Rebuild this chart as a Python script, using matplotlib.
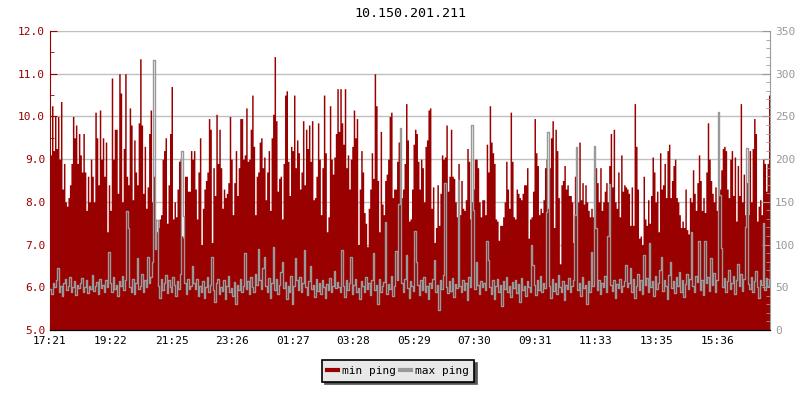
import numpy as np
import matplotlib
matplotlib.use('Agg')
import matplotlib.pyplot as plt
from matplotlib.lines import Line2D
from matplotlib.ticker import MultipleLocator, FormatStrFormatter

plt.rcParams['font.family'] = 'DejaVu Sans Mono'
plt.rcParams['font.size'] = 8

# '#' chart data (24 h window)
title = '10.150.201.211'
span_minutes = 1440
tick_minutes = [0, 121, 244, 365, 486, 607, 728, 849, 970, 1092, 1214, 1335]
tick_labels = ['17:21', '19:22', '21:25', '23:26', '01:27', '03:28',
               '05:29', '07:30', '09:31', '11:33', '13:35', '15:36']

# '#' min ping, left axis
min_ping = [
    9.1, 10.25, 9.2, 10.0, 9.25, 10.0, 9.0, 10.35, 8.3, 8.9,
    8.0, 7.9, 8.1, 8.4, 8.9, 10.0, 9.5, 9.8, 8.9, 9.6,
    9.1, 8.7, 9.6, 8.7, 7.8, 8.6, 8.0, 9.0, 8.6, 8.0,
    10.1, 9.5, 8.4, 10.15, 9.0, 9.5, 8.6, 9.4, 7.3, 8.4,
    7.8, 10.9, 9.0, 9.7, 9.7, 8.2, 11.0, 10.55, 8.0, 9.25,
    11.0, 8.6, 8.4, 10.2, 9.8, 8.05, 9.45, 8.7, 8.4, 9.85,
    11.35, 9.8, 8.2, 9.3, 7.85, 8.35, 9.6, 10.15, 8.0, 8.6,
    7.6, 7.3, 7.4, 7.6, 7.7, 9.0, 9.2, 9.5, 7.5, 8.4,
    9.6, 10.7, 7.6, 8.0, 7.65, 8.3, 8.95, 9.0, 7.2, 7.15,
    8.6, 8.6, 8.25, 8.25, 9.2, 9.0,
    9.2, 8.3, 7.6, 8.7, 9.5, 7.0, 7.85, 8.3, 8.5, 8.7,
    9.95, 9.7, 7.05, 8.8, 8.15, 10.05, 8.9, 9.7, 8.8, 7.85,
    8.3, 8.1, 8.2, 8.45, 10.0, 9.0, 7.7, 8.45, 9.2, 8.15,
    8.8, 9.95, 9.95, 9.0, 9.1, 10.2, 8.95, 9.0, 9.7, 10.5,
    9.3, 7.7, 8.6, 8.7, 9.4, 9.5, 8.8, 9.05, 8.05, 8.7,
    9.2, 7.8, 9.5, 10.05, 11.4, 9.9, 8.25, 8.55, 8.6, 7.6,
    8.9, 10.5, 10.6, 8.95, 8.15, 9.3, 9.2, 10.5, 8.8, 9.45,
    9.15, 8.3, 8.7, 9.9, 8.4, 9.7, 9.25, 9.8, 8.95, 9.9,
    8.05, 8.1, 8.6, 9.85, 9.0, 7.7, 8.8, 10.5, 9.15, 7.3,
    7.65, 10.25, 9.0, 8.65, 9.05, 9.6, 10.65,
    9.65, 10.65, 9.85, 9.35, 10.65, 8.8, 9.1, 8.3, 9.0, 9.3,
    10.15, 9.5, 9.95, 7.0, 8.3, 9.2, 8.7, 7.75, 7.5, 6.95,
    7.85, 8.3, 9.15, 8.55, 11.0, 10.25, 8.5, 7.3, 9.65, 7.95,
    7.7, 8.5, 8.65, 9.0, 10.0, 10.1, 8.1, 8.3, 8.3, 8.95,
    9.4, 8.7, 8.1, 8.3, 8.9, 10.3, 9.45, 7.55, 7.6, 8.3,
    9.35, 9.7, 9.6, 8.95, 8.3, 9.0, 8.8, 8.0, 9.3, 9.45,
    10.15, 10.2, 7.85, 8.35, 7.05, 7.4, 8.4, 7.45, 8.2, 9.1,
    9.0, 9.05, 9.8, 8.25, 8.6, 9.7, 8.6, 8.55, 8.0, 7.65,
    8.9, 7.7, 8.5, 7.85, 7.8, 8.05, 9.25, 8.95, 7.6, 8.0,
    8.3, 9.0, 9.0, 8.8, 8.0, 7.65, 8.05,
    8.05, 7.7, 9.35, 8.7, 10.25, 9.4, 9.15, 8.9, 7.6, 7.55,
    7.1, 7.45, 7.45, 7.65, 8.0, 8.95, 8.3, 7.85, 10.1, 8.95,
    7.65, 7.6, 8.3, 8.2, 8.1, 8.05, 8.2, 8.4, 8.4, 8.8,
    7.15, 7.6, 7.65, 8.25, 9.95, 9.15, 8.85, 7.7, 7.85, 7.75,
    8.05, 8.8, 9.0, 7.85, 8.8, 9.5, 9.9, 7.4, 9.7, 9.2,
    8.1, 6.55, 8.4, 8.5, 8.85, 8.3, 8.4, 8.15, 8.15, 8.0,
    7.05, 8.6, 8.95, 8.0, 9.4, 8.05, 8.45, 7.95, 8.4, 8.0,
    7.8, 7.65, 7.85, 7.65, 8.9, 8.8, 8.45, 8.0, 8.8, 7.8,
    8.0, 8.25, 8.45, 8.0, 8.85, 9.6, 8.35, 9.7, 8.0, 7.85,
    8.7, 7.65, 9.1, 8.25, 8.4, 8.35, 8.3,
    8.2, 7.45, 8.35, 7.45, 10.3, 9.3, 8.3, 7.15, 7.2, 7.0,
    8.6, 7.6, 7.45, 8.05, 7.5, 8.15, 9.05, 8.7, 8.0, 8.25,
    7.3, 9.15, 8.3, 8.4, 8.9, 8.1, 9.2, 9.35, 8.1, 8.5,
    8.85, 9.0, 8.1, 8.0, 7.7, 7.4, 7.55, 7.4, 8.3, 7.35,
    7.25, 8.1, 8.0, 8.75, 8.2, 7.8, 8.45, 9.1, 8.5, 7.8,
    8.1, 7.75, 8.7, 9.85, 9.0, 8.5, 8.2, 8.0, 8.35, 7.8,
    8.3, 8.3, 8.75, 9.25, 9.3, 9.2, 8.3, 8.1, 9.0, 9.2,
    8.15, 9.05, 7.55, 8.85, 8.15, 10.3, 8.0, 8.65, 7.7, 8.45,
    7.7, 9.2, 8.0, 9.25, 9.95, 9.6, 7.55, 7.9, 8.05, 7.7,
    9.0, 8.9, 8.25, 8.9, 10.5, 8.0,
]

# '#' max ping, right axis
max_ping = [
    48, 42, 55, 50, 58, 73, 45, 52, 40, 55,
    60, 47, 52, 62, 44, 50, 57, 41, 53, 49,
    55, 61, 45, 50, 58, 43, 52, 48, 64, 46,
    51, 56, 42, 60, 49, 53, 45, 58, 50, 91,
    55, 44, 62, 48, 53, 40, 57, 51, 63, 47,
    58, 139, 119, 50, 45, 60, 42, 55, 84, 48,
    52, 66, 44, 58, 50, 86, 55, 62, 80, 316,
    95, 129, 52, 38, 60, 47, 55, 64, 43, 58,
    50, 45, 62, 53, 40, 57, 48, 66, 209, 133,
    55, 42, 60, 48, 52, 75,
    55, 48, 60, 40, 52, 45, 57, 38, 50, 62,
    44, 53, 86, 47, 33, 55, 60, 42, 50, 46,
    58, 36, 52, 63, 45, 49, 40, 56, 31, 53,
    47, 60, 44, 51, 90, 48, 57, 42, 62, 50,
    45, 66, 53, 95, 58, 48, 72, 86, 52, 44,
    61, 38, 55, 97, 47, 60, 42, 53, 68, 80,
    49, 56, 36, 52, 45, 63, 30, 51, 84, 58,
    47, 62, 44, 55, 94, 50, 41, 57, 75, 48,
    53, 39, 60, 46, 55, 42, 58, 50, 37, 54,
    47, 61, 44, 52, 69, 49, 56,
    50, 44, 94, 52, 39, 58, 47, 55, 86, 42,
    53, 60, 45, 49, 36, 57, 51, 44, 62, 48,
    55, 41, 58, 90, 47, 53, 30, 60, 45, 51,
    56, 127, 42, 54, 48, 63, 40, 52, 92, 58,
    147, 237, 55, 44, 60, 88, 49, 38, 57, 51,
    46, 116, 80, 53, 41, 58, 47, 62, 44, 52,
    36, 55, 49, 60, 82, 45, 53, 23, 58, 48,
    64, 172, 50, 43, 57, 46, 61, 39, 54, 49,
    176, 52, 44, 59, 47, 55, 35, 62, 50, 240,
    141, 48, 80, 53, 42, 57, 50,
    55, 47, 104, 82, 50, 42, 58, 36, 52, 60,
    45, 53, 28, 57, 48, 62, 44, 51, 39, 56,
    49, 59, 43, 54, 33, 61, 47, 52, 40, 57,
    50, 45, 100, 76, 53, 41, 58, 47, 63, 44,
    55, 49, 138, 232, 52, 38, 60, 46, 55, 42,
    64, 50, 45, 57, 35, 53, 48, 61, 44, 52,
    58, 135, 214, 47, 55, 40, 62, 49, 53, 30,
    57, 45, 91, 51, 215, 119, 47, 59, 42, 55,
    50, 63, 44, 110, 171, 53, 46, 58, 38, 54,
    49, 60, 45, 52, 57, 76, 50,
    55, 73, 45, 60, 38, 52, 66, 47, 58, 42,
    88, 53, 61, 44, 102, 50, 57, 40, 63, 48,
    55, 70, 86, 46, 59, 52, 36, 64, 80, 49,
    57, 43, 62, 51, 68, 45, 58, 39, 54, 66,
    48, 60, 115, 52, 44, 63, 56, 104, 47, 58,
    41, 104, 55, 62, 46, 84, 53, 67, 44, 59,
    255, 158, 96, 50, 61, 45, 57, 70, 48, 55,
    63, 42, 58, 77, 51, 66, 46, 60, 121, 213,
    54, 48, 62, 44, 57, 69, 50, 38, 59, 53,
    125, 47, 61, 52, 58, 75,
]

red = '#990000'
grey = '#999999'

x_min = np.linspace(0, span_minutes, len(min_ping))
x_max = np.linspace(0, span_minutes, len(max_ping))

fig = plt.figure(figsize=(8, 4), dpi=100)
ax = fig.add_axes([0.0625, 0.175, 0.9, 0.7475])
ax2 = ax.twinx()

# '#' min ping as a filled area on the left axis
ax.fill_between(x_min, 5.0, min_ping, step='post', color=red, lw=0)
ax.set_ylim(5.0, 12.0)
ax.set_xlim(0, span_minutes)
ax.yaxis.set_major_locator(MultipleLocator(1.0))
ax.yaxis.set_minor_locator(MultipleLocator(0.5))
ax.yaxis.set_major_formatter(FormatStrFormatter('%.1f'))
ax.grid(axis='y', color='#c0c0c0', lw=1)
ax.set_axisbelow(True)
ax.set_xticks(tick_minutes)
ax.set_xticklabels(tick_labels)
ax.tick_params(axis='x', direction='in', length=5, color='black', pad=4)
ax.tick_params(axis='y', which='major', direction='in', length=5, color=red, labelcolor=red)
ax.tick_params(axis='y', which='minor', direction='in', length=3, color=red)

# '#' max ping as a line on the right axis
ax2.step(x_max, max_ping, where='post', color=grey, lw=1.0)
ax2.set_ylim(0, 350)
ax2.yaxis.set_major_locator(MultipleLocator(50))
ax2.yaxis.set_minor_locator(MultipleLocator(10))
ax2.tick_params(axis='y', which='major', direction='in', length=6, color=grey, labelcolor=grey)
ax2.tick_params(axis='y', which='minor', direction='in', length=3, color=grey)

for a in (ax, ax2):
    a.spines['top'].set_visible(False)
ax.spines['left'].set_color(red)
ax.spines['right'].set_visible(False)
ax2.spines['left'].set_visible(False)
ax2.spines['right'].set_color(grey)
ax2.spines['bottom'].set_color('black')

ax.set_title(title, pad=10)

handles = [Line2D([], [], color=red, lw=3), Line2D([], [], color=grey, lw=3)]
leg = fig.legend(handles, ['min ping', 'max ping'], loc='center',
                 bbox_to_anchor=(0.4975, 0.0725), ncol=2, fancybox=False,
                 handlelength=1.0, handletextpad=0.3, columnspacing=0.4,
                 borderpad=0.5, shadow={'color': '#555555', 'alpha': 1.0})
leg.get_frame().set_edgecolor('black')
leg.get_frame().set_facecolor('#e8e8e8')
leg.get_frame().set_linewidth(1.2)
leg.get_frame().set_alpha(1.0)

fig.savefig('out.png', dpi=100)
